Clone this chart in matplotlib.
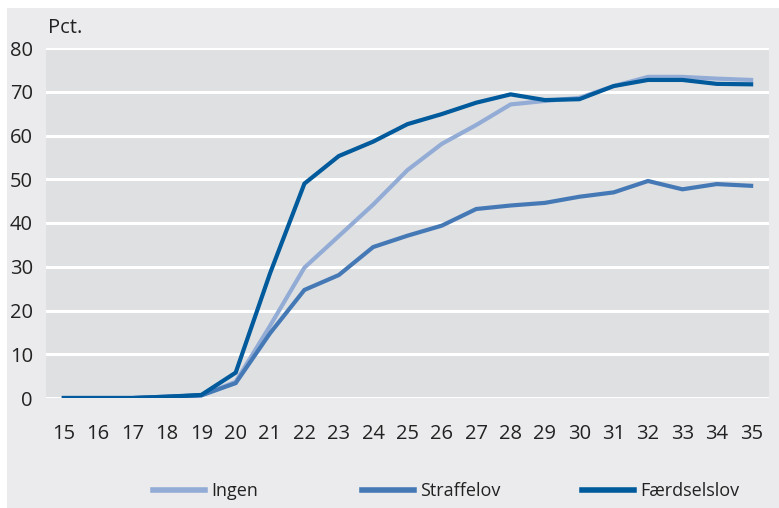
import matplotlib
matplotlib.use("Agg")
import matplotlib.pyplot as plt
from matplotlib.patches import Rectangle
from matplotlib import font_manager

ages = list(range(15, 36))
ingen = [0, 0, 0, 0.3, 0.6, 3.7, 16.5, 29.8, 37.0, 44.2, 52.1, 58.1, 62.4, 67.1, 67.9, 68.6, 71.3, 73.4, 73.4, 73.0, 72.7]
straffelov = [0, 0, 0, 0.3, 0.6, 3.4, 14.8, 24.7, 28.1, 34.5, 37.1, 39.4, 43.2, 44.0, 44.6, 46.0, 47.0, 49.6, 47.7, 48.9, 48.5]
faerdselslov = [0, 0, 0, 0.3, 0.7, 5.8, 28.5, 49.0, 55.3, 58.6, 62.6, 64.9, 67.5, 69.4, 68.1, 68.3, 71.3, 72.7, 72.7, 71.8, 71.7]
series_names = ["Ingen", "Straffelov", "Færdselslov"]
colors = ["#93acd6", "#4579b6", "#005a9b"]
yticks = [0, 10, 20, 30, 40, 50, 60, 70, 80]

installed = {f.name for f in font_manager.fontManager.ttflist}
if "Liberation Sans Narrow" in installed:
    FAMILY = "Liberation Sans Narrow"
    FS, LFS = 15, 15
else:
    FAMILY = "Open Sans"
    FS, LFS = 14.5, 13
plt.rcParams['font.family'] = [FAMILY, 'DejaVu Sans']
TXT = "#222222"

W, H = 779, 508
fig = plt.figure(figsize=(W / 100, H / 100), dpi=100)
fig.patch.set_facecolor("white")
fig.patches.append(Rectangle((7 / W, 0), 1 - 7 / W, 1 - 8 / H, transform=fig.transFigure,
                             facecolor="#ebebed", edgecolor="none", zorder=-5))

left, right, top, bottom = 46, 769, 48, 398
ax = fig.add_axes([left / W, 1 - bottom / H, (right - left) / W, (bottom - top) / H])
ax.set_facecolor("#dfe0e2")
for s in ax.spines.values():
    s.set_visible(False)

handles = []
for vals, name, c in zip([ingen, straffelov, faerdselslov], series_names, colors):
    h, = ax.plot(ages, vals, color=c, lw=3.0, label=name, solid_joinstyle="miter", zorder=3)
    handles.append(h)

ax.set_xlim(14.48, 35.52)
ax.set_ylim(0, 80)
ax.set_yticks(yticks)
ax.set_xticks(ages)
ax.grid(axis="y", color="white", lw=2.2, zorder=1)
ax.set_axisbelow(True)
ax.tick_params(axis="both", length=0, labelsize=FS, colors=TXT)
ax.tick_params(axis="y", pad=9.5)
ax.tick_params(axis="x", pad=19)

fig.text(48 / W, 1 - 28 / H, "Pct.", fontsize=FS, color=TXT, va="center", ha="left")

leg_x = [153, 362, 582]
for h, x in zip(handles, leg_x):
    leg = fig.legend(handles=[h], loc="center left", bbox_to_anchor=(x / W, 1 - 491 / H),
                     frameon=False, fontsize=LFS, handlelength=52 / (LFS * 100 / 72),
                     handletextpad=6 / (LFS * 100 / 72), borderpad=0, borderaxespad=0)
    for t in leg.get_texts():
        t.set_color(TXT)
    for l in leg.get_lines():
        l.set_linewidth(4)

fig.savefig("out.png", dpi=100, facecolor=fig.get_facecolor())
